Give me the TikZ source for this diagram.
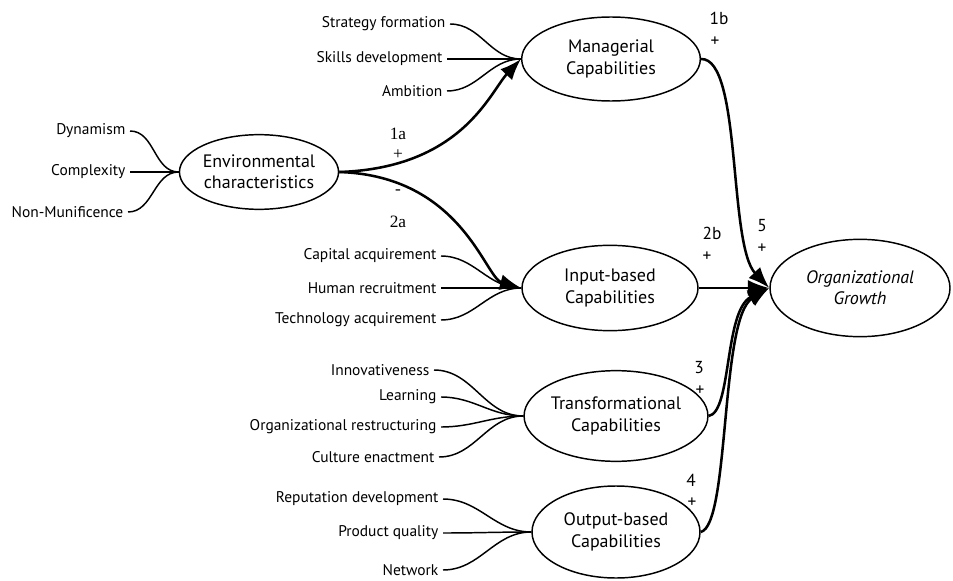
\documentclass[tikz,border=0pt]{standalone}
\usepackage{fontspec}
\setmainfont{PT Sans}
\newfontfamily\numserif{Liberation Serif}
\usetikzlibrary{shapes.geometric,arrows.meta}

\begin{document}
\begin{tikzpicture}[x=0.75pt,y=-0.75pt,
  capnode/.style={ellipse,draw,line width=1.1pt,inner sep=0pt,align=center,
    font=\fontsize{13.5}{16}\selectfont},
  item/.style={anchor=east,inner sep=0pt,outer xsep=3.5pt,
    font=\fontsize{11.6}{13}\selectfont},
  sign/.style={inner sep=0pt,font=\fontsize{13}{14}\selectfont},
  serifsign/.style={inner sep=0pt,font=\numserif\fontsize{13}{14}\selectfont},
  feed/.style={line width=1.1pt},
  link/.style={line width=1.9pt,-{Latex[length=16pt,width=12pt]}}
]
\useasboundingbox (0,0) rectangle (953,581);

% construct ellipses
\node[capnode,minimum width=134pt,minimum height=63pt] (mgr) at (611,59) {Managerial\\Capabilities};
\node[capnode,minimum width=117pt,minimum height=56pt] (env) at (259,172) {Environmental\\characteristics};
\node[capnode,minimum width=132pt,minimum height=64pt] (inp) at (610,288) {Input-based\\Capabilities};
\node[capnode,minimum width=127pt,minimum height=68pt] (trf) at (616,416) {Transformational\\Capabilities};
\node[capnode,minimum width=126pt,minimum height=69pt] (out) at (616,532) {Output-based\\Capabilities};
\node[capnode,minimum width=135pt,minimum height=73pt,font=\fontsize{13.5}{16}\selectfont\itshape] (og) at (860,288) {Organizational\\Growth};

% indicators of managerial capabilities
\node[item] (sf) at (450,24) {Strategy formation};
\node[item] (sd) at (447,59) {Skills development};
\node[item] (amb) at (447,91) {Ambition};
% environmental dimensions
\node[item] (dyn) at (130,131) {Dynamism};
\node[item] (cpx) at (130,172) {Complexity};
\node[item] (nmf) at (128,212) {Non-Munificence};
% input-based indicators
\node[item] (cap) at (441,256) {Capital acquirement};
\node[item] (hum) at (441,288) {Human recruitment};
\node[item] (tec) at (441,320) {Technology acquirement};
% transformational indicators
\node[item] (inn) at (434,370) {Innovativeness};
\node[item] (lrn) at (441,397) {Learning};
\node[item] (org) at (441,427) {Organizational restructuring};
\node[item] (cul) at (439,457) {Culture enactment};
% output-based indicators
\node[item] (rep) at (443,499) {Reputation development};
\node[item] (pq) at (443,533) {Product quality};
\node[item] (net) at (443,570) {Network};

% indicator lines
\foreach \s/\t in {sf/mgr,sd/mgr,amb/mgr,cap/inp,hum/inp,tec/inp,
                   inn/trf,lrn/trf,org/trf,cul/trf,rep/out,pq/out,net/out}
  \draw[feed] (\s.east) to[out=0,in=180] (\t.west);
\foreach \s in {dyn,cpx,nmf}
  \draw[feed] (\s.east) to[out=0,in=180] (env.west);

% hypothesised paths
\draw[link] (env.east) .. controls (462,168) and (490,92) .. (mgr.west);
\draw[link] (env.east) .. controls (462,176) and (485,278) .. (inp.west);
\draw[link] (mgr.east) .. controls (742,58) and (728,245) .. (og.west);
\draw[link] (inp.east) -- (og.west);
\draw[link] (trf.east) .. controls (732,412) and (724,310) .. (og.west);
\draw[link] (out.east) .. controls (730,525) and (720,318) .. (og.west);

% path signs
\node[serifsign] (s1a) at (398,134) {1a};
\node[serifsign] (p1a) at (398,155) {+};
\node[serifsign] (m2a) at (398,192) {-};
\node[serifsign] (s2a) at (398,222) {2a};
\node[sign] (s1b) at (719,18) {1b};
\node[sign] (p1b) at (715,42) {+};
\node[sign] (s2b) at (712,233) {2b};
\node[sign] (p2b) at (707,257) {+};
\node[sign] (s5) at (762,226) {5};
\node[sign] (p5) at (762,249) {+};
\node[sign] (s3) at (699,368) {3};
\node[sign] (p3) at (700,391) {+};
\node[sign] (s4) at (691,480) {4};
\node[sign] (p4) at (692,503) {+};
\end{tikzpicture}
\end{document}
